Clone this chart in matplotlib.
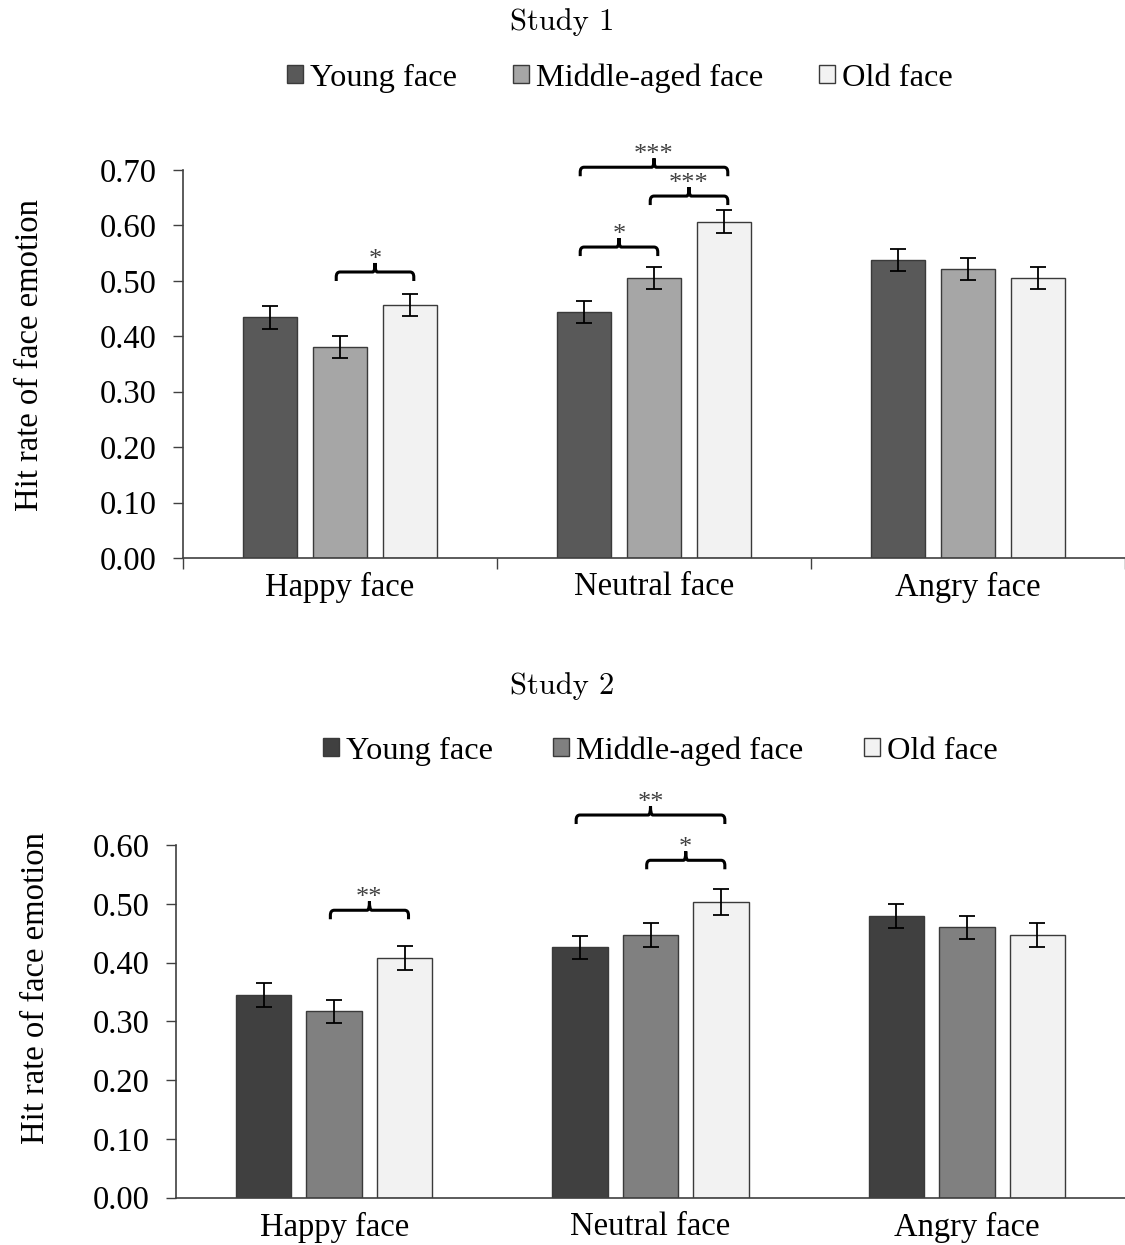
import matplotlib
matplotlib.use("Agg")
import matplotlib.pyplot as plt
from matplotlib.path import Path
from matplotlib.patches import PathPatch, Patch
import numpy as np

categories = ["Happy face", "Neutral face", "Angry face"]
series = ["Young face", "Middle-aged face", "Old face"]

# Study 1
s1_young = [0.434, 0.444, 0.537]
s1_middle = [0.381, 0.505, 0.522]
s1_old = [0.456, 0.607, 0.505]
s1_err_young = [0.020, 0.020, 0.020]
s1_err_middle = [0.020, 0.020, 0.020]
s1_err_old = [0.020, 0.020, 0.020]
s1_yticks = [0.00, 0.10, 0.20, 0.30, 0.40, 0.50, 0.60, 0.70]
# brackets: (category index, series a, series b, line level, label)
s1_brackets = [(0, 1, 2, 0.516, "*"),
               (1, 0, 1, 0.561, "*"),
               (1, 1, 2, 0.653, "***"),
               (1, 0, 2, 0.705, "***")]

# Study 2
s2_young = [0.345, 0.426, 0.479]
s2_middle = [0.317, 0.447, 0.460]
s2_old = [0.408, 0.503, 0.447]
s2_err_young = [0.021, 0.020, 0.020]
s2_err_middle = [0.020, 0.020, 0.020]
s2_err_old = [0.020, 0.022, 0.020]
s2_yticks = [0.00, 0.10, 0.20, 0.30, 0.40, 0.50, 0.60]
s2_brackets = [(0, 1, 2, 0.489, "**"),
               (1, 1, 2, 0.574, "*"),
               (1, 0, 2, 0.651, "**")]

s1_colors = ["#595959", "#a6a6a6", "#f2f2f2"]
s2_colors = ["#404040", "#808080", "#f2f2f2"]
edge = "#3a3a3a"

SERIF = ["Liberation Serif", "DejaVu Serif"]
plt.rcParams["font.family"] = SERIF
FS = 23.5
LFS = 23.3
STAR_FS = 19

fig = plt.figure(figsize=(11.25, 12.45), dpi=100)

W = 1125.0
H = 1245.0
ax1 = fig.add_axes([183 / W, 1 - 558 / H, 1 - 183 / W, (558 - 170) / H])
ax2 = fig.add_axes([176 / W, 1 - 1197.7 / H, 1 - 176 / W, (1197.7 - 845) / H])

bw = 0.175
step = 0.223
offsets = [-step, 0.0, step]


def bracket(ax, x0, x1, y, d, t, rx, ry, rt):
    xm = (x0 + x1) / 2
    verts = [(x0, y - d), (x0, y - ry), (x0, y), (x0 + rx, y),
             (xm - rt, y), (xm, y), (xm, y + t),
             (xm, y + t), (xm, y), (xm + rt, y),
             (x1 - rx, y), (x1, y), (x1, y - ry), (x1, y - d)]
    codes = [Path.MOVETO, Path.LINETO, Path.CURVE3, Path.CURVE3,
             Path.LINETO, Path.CURVE3, Path.CURVE3,
             Path.MOVETO, Path.CURVE3, Path.CURVE3,
             Path.LINETO, Path.CURVE3, Path.CURVE3, Path.LINETO]
    ax.add_patch(PathPatch(Path(verts, codes), fill=False, lw=2.2,
                           edgecolor="black", clip_on=False,
                           capstyle="butt", joinstyle="round"))
    return xm


def draw(ax, vals, errs, colors, yticks, brackets, ymax, px_per_unit,
         sep_ticks, label_xy):
    x = np.arange(len(categories))
    for i in range(3):
        ax.bar(x + offsets[i], vals[i], width=bw, color=colors[i],
               edgecolor=edge, linewidth=1.0, zorder=2)
        ax.errorbar(x + offsets[i], vals[i], yerr=errs[i], fmt="none",
                    ecolor="black", elinewidth=1.3, capsize=6,
                    capthick=1.3, zorder=3)
    ax.set_xlim(-0.5, 2.5)
    ax.set_ylim(0, ymax)
    ax.set_yticks(yticks)
    ax.set_yticklabels(["%.2f" % v for v in yticks], fontsize=FS)
    ax.set_xticks(x)
    ax.set_xticklabels(categories, fontsize=FS)
    ax.tick_params(axis="x", length=0, pad=10)
    ax.tick_params(axis="y", length=7, width=1.0, color="#404040",
                   pad=12, direction="out")
    if sep_ticks:
        ax.set_xticks([-0.5, 0.5, 1.5, 2.5], minor=True)
        ax.tick_params(axis="x", which="minor", length=8, width=1.0,
                       color="#404040", direction="out")
    for s in ["top", "right"]:
        ax.spines[s].set_visible(False)
    for s in ["left", "bottom"]:
        ax.spines[s].set_color("#404040")
        ax.spines[s].set_linewidth(1.2)
    ax.set_ylabel("Hit rate of face emotion", fontsize=FS)
    ax.yaxis.set_label_coords(*label_xy)
    ax.set_facecolor("white")
    u = 1.0 / px_per_unit
    star_px = STAR_FS * 100 / 72.0
    for (c, a, b, lvl, lab) in brackets:
        x0 = c + offsets[a] - 0.012
        x1 = c + offsets[b] + 0.012
        xm = bracket(ax, x0, x1, lvl, 9 * u, 9 * u, 0.012, 5 * u, 0.007)
        # asterisk glyph sits ~0.57 em above baseline
        ax.text(xm, lvl + (21 - 0.57 * star_px) * u, lab, ha="center",
                va="baseline", fontsize=STAR_FS, color="#404040",
                clip_on=False)


draw(ax1, [s1_young, s1_middle, s1_old],
     [s1_err_young, s1_err_middle, s1_err_old], s1_colors, s1_yticks,
     s1_brackets, 0.70, 388 / 0.70, True, (-0.1465, 0.523))
draw(ax2, [s2_young, s2_middle, s2_old],
     [s2_err_young, s2_err_middle, s2_err_old], s2_colors, s2_yticks,
     s2_brackets, 0.60, 352.7 / 0.60, False, (-0.1317, 0.595))

fig.text(0.5, 1 - 22 / H, "Study 1", ha="center", va="center",
         fontsize=22, family="cmr10")
fig.text(0.5, 1 - 686 / H, "Study 2", ha="center", va="center",
         fontsize=22, family="cmr10")


def legend(colors, xleft, ycen, colsp):
    handles = [Patch(facecolor=c, edgecolor=edge, linewidth=1.0) for c in colors]
    fig.legend(handles, series, loc="center left",
               bbox_to_anchor=(xleft / W, 1 - ycen / H),
               ncol=3, frameon=False, fontsize=LFS, handlelength=0.5,
               handleheight=0.5, handletextpad=0.22, columnspacing=colsp,
               borderaxespad=0, borderpad=0)


legend(s1_colors, 287, 78, 1.72)
legend(s2_colors, 323, 751, 1.85)

fig.savefig("out.png", dpi=100, facecolor="white")
